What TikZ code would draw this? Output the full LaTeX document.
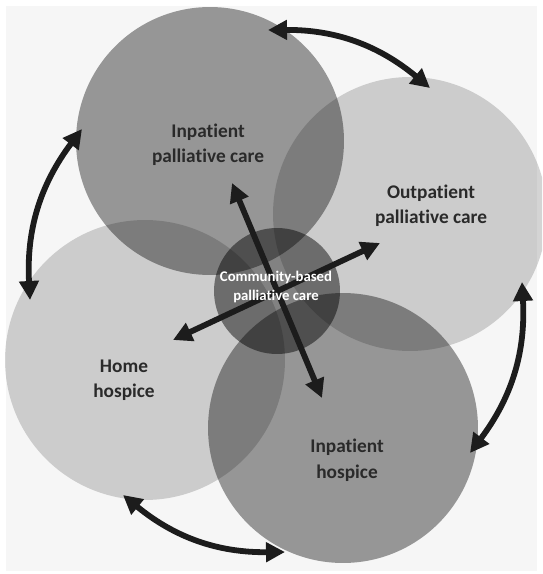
\documentclass[tikz,border=0pt]{standalone}
\usepackage{fontspec}
\setmainfont{Carlito}[Ligatures=NoCommon]
\usetikzlibrary{arrows.meta}

\definecolor{bgcol}{HTML}{F6F6F6}
\definecolor{labelcol}{HTML}{2A2A2A}
\definecolor{arrowcol}{HTML}{1C1C1C}

\begin{document}
\begin{tikzpicture}[x=0.02cm,y=-0.02cm,
    >={Triangle[length=0.38cm,width=0.38cm]},
    darkdisc/.style={circle, fill=black, fill opacity=0.39, minimum size=#1},
    lightdisc/.style={circle, fill=black, fill opacity=0.17, minimum size=#1},
    coredisc/.style={circle, fill=black, fill opacity=0.47, minimum size=2.52cm},
    txt/.style={text=labelcol, font=\bfseries\fontsize{11}{14.5}\selectfont, align=center},
    coretxt/.style={text=white, font=\bfseries\fontsize{8.4}{10.8}\selectfont, align=center},
    link/.style={draw=arrowcol, line width=3.3pt, <->}]
    \useasboundingbox (0,0) rectangle (542,574);
    \clip (0,0) rectangle (542,574);
    \fill[white] (0,0) rectangle (542,574);
    \fill[bgcol] (6,6) rectangle (537,571);

    % the four services
    \node[darkdisc=5.36cm] (inpal) at (210,141) {};
    \node[lightdisc=5.48cm] (outpat) at (410,214) {};
    \node[lightdisc=5.6cm] (home) at (145,360) {};
    \node[darkdisc=5.4cm] (inhosp) at (343,428) {};
    \node[coredisc] (core) at (277,291) {};

    % arrow ends
    \coordinate (inpal-top) at (268,30);
    \coordinate (outpat-top) at (430,88);
    \coordinate (outpat-right) at (522,282);
    \coordinate (inhosp-right) at (470,453);
    \coordinate (inhosp-bot) at (285,552);
    \coordinate (home-bot) at (123,495);
    \coordinate (home-left) at (30,300);
    \coordinate (inpal-left) at (82,129);
    \coordinate (inpal-in) at (232,183);
    \coordinate (inhosp-in) at (322,398);
    \coordinate (outpat-in) at (380,243);
    \coordinate (home-in) at (173,340);

    \draw[link] (inpal-top) to[bend left=20] (outpat-top);
    \draw[link] (outpat-right) to[bend left=20] (inhosp-right);
    \draw[link] (inhosp-bot) to[bend left=20] (home-bot);
    \draw[link] (home-left) to[bend left=20] (inpal-left);
    \draw[link] (inpal-in) -- (inhosp-in);
    \draw[link] (home-in) -- (outpat-in);

    % labels
    \node[txt] (inpal-t) at (208,145) {Inpatient\\palliative care};
    \node[txt] (outpat-t) at (431,206) {Outpatient\\palliative care};
    \node[txt] (home-t) at (124,380) {Home\\hospice};
    \node[txt] (inhosp-t) at (347,460) {Inpatient\\hospice};
    \node[coretxt] (core-t) at (276,287) {Community-based\\palliative care};
\end{tikzpicture}
\end{document}
